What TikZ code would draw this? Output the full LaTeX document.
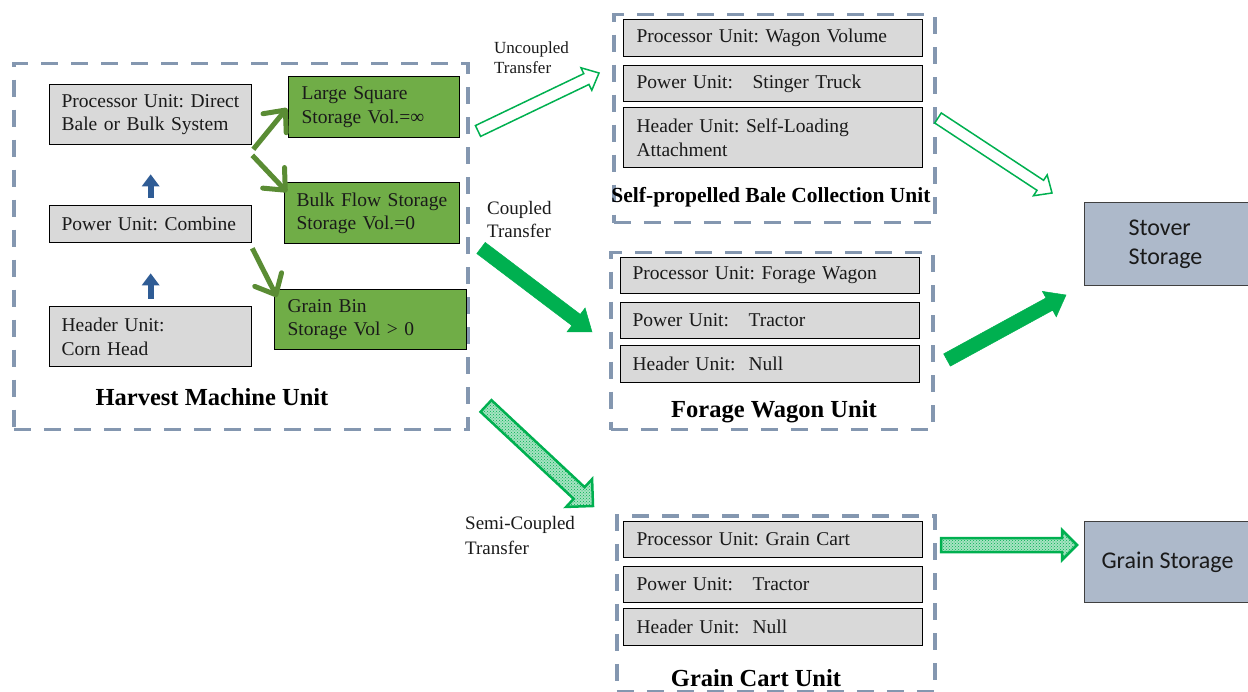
\documentclass[tikz,border=0pt]{standalone}
\usepackage{fontspec}
\setmainfont{Liberation Serif}
\newfontfamily\calibrifont{Carlito}
\usetikzlibrary{arrows.meta,calc,patterns}
\definecolor{dashc}{HTML}{8497B0}
\definecolor{boxgray}{HTML}{D9D9D9}
\definecolor{boxgreen}{HTML}{70AD47}
\definecolor{arrgreen}{HTML}{00B050}
\definecolor{darkgreen}{HTML}{5A8C34}
\definecolor{arrblue}{HTML}{2F5C95}
\definecolor{storc}{HTML}{ADB9CA}
\definecolor{txt}{HTML}{1A1A1A}
\newcommand\myblockarrow[6]{%
  \path ($(#3)!#6!(#2)$) coordinate (ba-neck);
  \draw[#1] ($(#2)!#4!90:(#3)$) -- ($(ba-neck)!#4!90:(#3)$) -- ($(ba-neck)!#5!90:(#3)$) -- (#3)
    -- ($(ba-neck)!#5!-90:(#3)$) -- ($(ba-neck)!#4!-90:(#3)$) -- ($(#2)!#4!-90:(#3)$) -- cycle;
}
\tikzset{
  unitbox/.style={draw=dashc, line width=3.5pt, dash pattern=on 17pt off 13pt, inner sep=0pt, anchor=north west},
  graybox/.style={draw=black, line width=1.3pt, fill=boxgray, inner xsep=13pt, inner ysep=0pt,
    align=left, anchor=north west, text=txt, font=\fontsize{19.5}{23.5}\selectfont},
  greenbox/.style={graybox, fill=boxgreen},
  unittitle/.style={font=\fontsize{24.5}{28}\bfseries\selectfont, inner sep=0pt, text=black},
  lbl/.style={inner sep=0pt, align=left, anchor=west, text=txt},
  storebox/.style={draw=black!75, line width=1pt, fill=storc, anchor=north west, text=txt,
    font=\calibrifont\fontsize{24}{29}\selectfont},
  bluearr/.style={draw=arrblue, line width=6pt, -{Triangle[length=12pt,width=17pt]}},
  dgarr/.style={draw=darkgreen, line width=5pt, -{Straight Barb[length=17pt,width=30pt,round]}},
  hollowarr/.style={draw=arrgreen, line width=1.5pt, fill=white, line join=miter},
  solidarr/.style={draw=arrgreen, line width=0.5pt, fill=arrgreen},
  dotarr/.style={draw=arrgreen, line width=2.5pt, preaction={fill=arrgreen!35}, pattern=crosshatch dots, pattern color=arrgreen}
}
\begin{document}
\frenchspacing\hyphenpenalty=10000\exhyphenpenalty=10000
\begin{tikzpicture}[x=1pt,y=-1pt]
\useasboundingbox (0,0) rectangle (1248,692);
\clip (0,0) rectangle (1248,692);

% ---------- Harvest Machine Unit ----------
\node[unitbox, minimum width=454pt, minimum height=366pt] (hmu) at (12,62) {};
\node[graybox, inner xsep=12pt, text width=178pt, minimum height=60pt] (proc) at (49,84) {Processor Unit: Direct\\Bale or Bulk System};
\node[graybox, inner xsep=12pt, text width=178pt, minimum height=37pt] (pow) at (49,205) {Power Unit: Combine};
\node[graybox, inner xsep=12pt, text width=178pt, minimum height=60pt] (hdr) at (49,306) {Header Unit:\\Corn Head};
\node[greenbox, text width=145pt, minimum height=61pt] (ls) at (288,76) {Large Square\\Storage Vol.=∞};
\node[greenbox, inner xsep=12pt, text width=151pt, minimum height=61pt] (bulk) at (284,182) {Bulk Flow Storage\\Storage Vol.=0};
\node[greenbox, text width=166pt, minimum height=60pt] (gb) at (274,289) {Grain Bin\\Storage Vol > 0};
\node[unittitle] (hmut) at (212,397) {Harvest Machine Unit};

\draw[bluearr] ([yshift=7pt]hdr.north) -- ([yshift=-30pt]pow.south);
\draw[bluearr] ([yshift=7pt]pow.north) -- ([yshift=-29pt]proc.south);
\draw[dgarr] ([xshift=1pt,yshift=-4pt]proc.south east) -- ([xshift=-1pt,yshift=-1pt]ls.west);
\draw[dgarr] ([yshift=-10pt]proc.south east) -- ([xshift=3pt,yshift=-10pt]bulk.north west);
\draw[dgarr] ([yshift=-5pt]pow.south east) -- ([xshift=3pt,yshift=-8pt]gb.north west);

% ---------- Self-propelled Bale Collection Unit ----------
\node[unitbox, minimum width=321pt, minimum height=208pt] (spb) at (612,13) {};
\node[graybox, text width=273pt, minimum height=37pt] (sproc) at (623,19) {Processor Unit:\ Wagon Volume};
\node[graybox, text width=273pt, minimum height=36pt] (spow) at (623,65) {Power Unit:\ \ \ Stinger Truck};
\node[graybox, text width=273pt, minimum height=60pt] (shdr) at (623,107) {Header Unit:\ Self-Loading\\Attachment};
\node[unittitle, font=\fontsize{21.5}{26}\bfseries\selectfont] (spbt) at (771,197) {Self-propelled Bale Collection Unit};

% ---------- Forage Wagon Unit ----------
\node[unitbox, minimum width=322pt, minimum height=177pt] (fwu) at (609,251) {};
\node[graybox, inner xsep=12pt, text width=275pt, minimum height=36pt] (fproc) at (620,257) {Processor Unit:\ Forage Wagon};
\node[graybox, inner xsep=12pt, text width=275pt, minimum height=36pt] (fpow) at (620,302) {Power Unit:\ \ \ Tractor};
\node[graybox, inner xsep=12pt, text width=275pt, minimum height=37pt] (fhdr) at (620,345) {Header Unit:\ \ Null};
\node[unittitle] (fwut) at (774,412) {Forage Wagon\ Unit};

% ---------- Grain Cart Unit ----------
\node[unitbox, minimum width=318pt, minimum height=176pt] (gcu) at (615,514) {};
\node[graybox, text width=273pt, minimum height=36pt] (gproc) at (623,521) {Processor Unit:\ Grain Cart};
\node[graybox, text width=273pt, minimum height=36pt] (gpow) at (623,566) {Power Unit:\ \ \ Tractor};
\node[graybox, text width=273pt, minimum height=37pt] (ghdr) at (623,608) {Header Unit:\ \ Null};
\node[unittitle] (gcut) at (756,678) {Grain Cart Unit};

% ---------- Storages ----------
\node[storebox, minimum width=170pt, minimum height=83pt, text width=120pt, inner xsep=44pt, align=left] (stover) at (1084,202) {Stover\\Storage};
\node[storebox, minimum width=166pt, minimum height=81pt, inner sep=0pt] (grain) at (1084,521) {Grain Storage};

% ---------- transfer labels ----------
\node[lbl, font=\fontsize{17}{20}\selectfont] (unclbl) at (494,58) {Uncoupled\\Transfer};
\node[lbl, font=\fontsize{19}{23}\selectfont] (coulbl) at (487,219.5) {Coupled\\Transfer};
\node[lbl, font=\fontsize{19}{25}\selectfont] (semlbl) at (465,535.5) {Semi-Coupled\\Transfer};

% ---------- block arrows ----------
\coordinate (unc-s) at (478,131);  \coordinate (unc-e) at (599,73);
\coordinate (cou-s) at (481,248);  \coordinate (cou-e) at (592,332);
\coordinate (sem-s) at (486,406);  \coordinate (sem-e) at (593,506);
\coordinate (sto1-s) at (938,118); \coordinate (sto1-e) at (1052,193);
\coordinate (sto2-s) at (947,360); \coordinate (sto2-e) at (1066,295);
\coordinate (gra-s) at (941,545);  \coordinate (gra-e) at (1077,545);

\myblockarrow{hollowarr}{unc-s}{unc-e}{6pt}{12.5pt}{14pt}
\myblockarrow{solidarr}{cou-s}{cou-e}{7pt}{15pt}{20pt}
\myblockarrow{dotarr}{sem-s}{sem-e}{8pt}{19pt}{19pt}
\myblockarrow{hollowarr}{sto1-s}{sto1-e}{6pt}{12.5pt}{14pt}
\myblockarrow{solidarr}{sto2-s}{sto2-e}{7pt}{14.5pt}{19pt}
\myblockarrow{dotarr}{gra-s}{gra-e}{7pt}{15pt}{15pt}
\end{tikzpicture}
\end{document}
